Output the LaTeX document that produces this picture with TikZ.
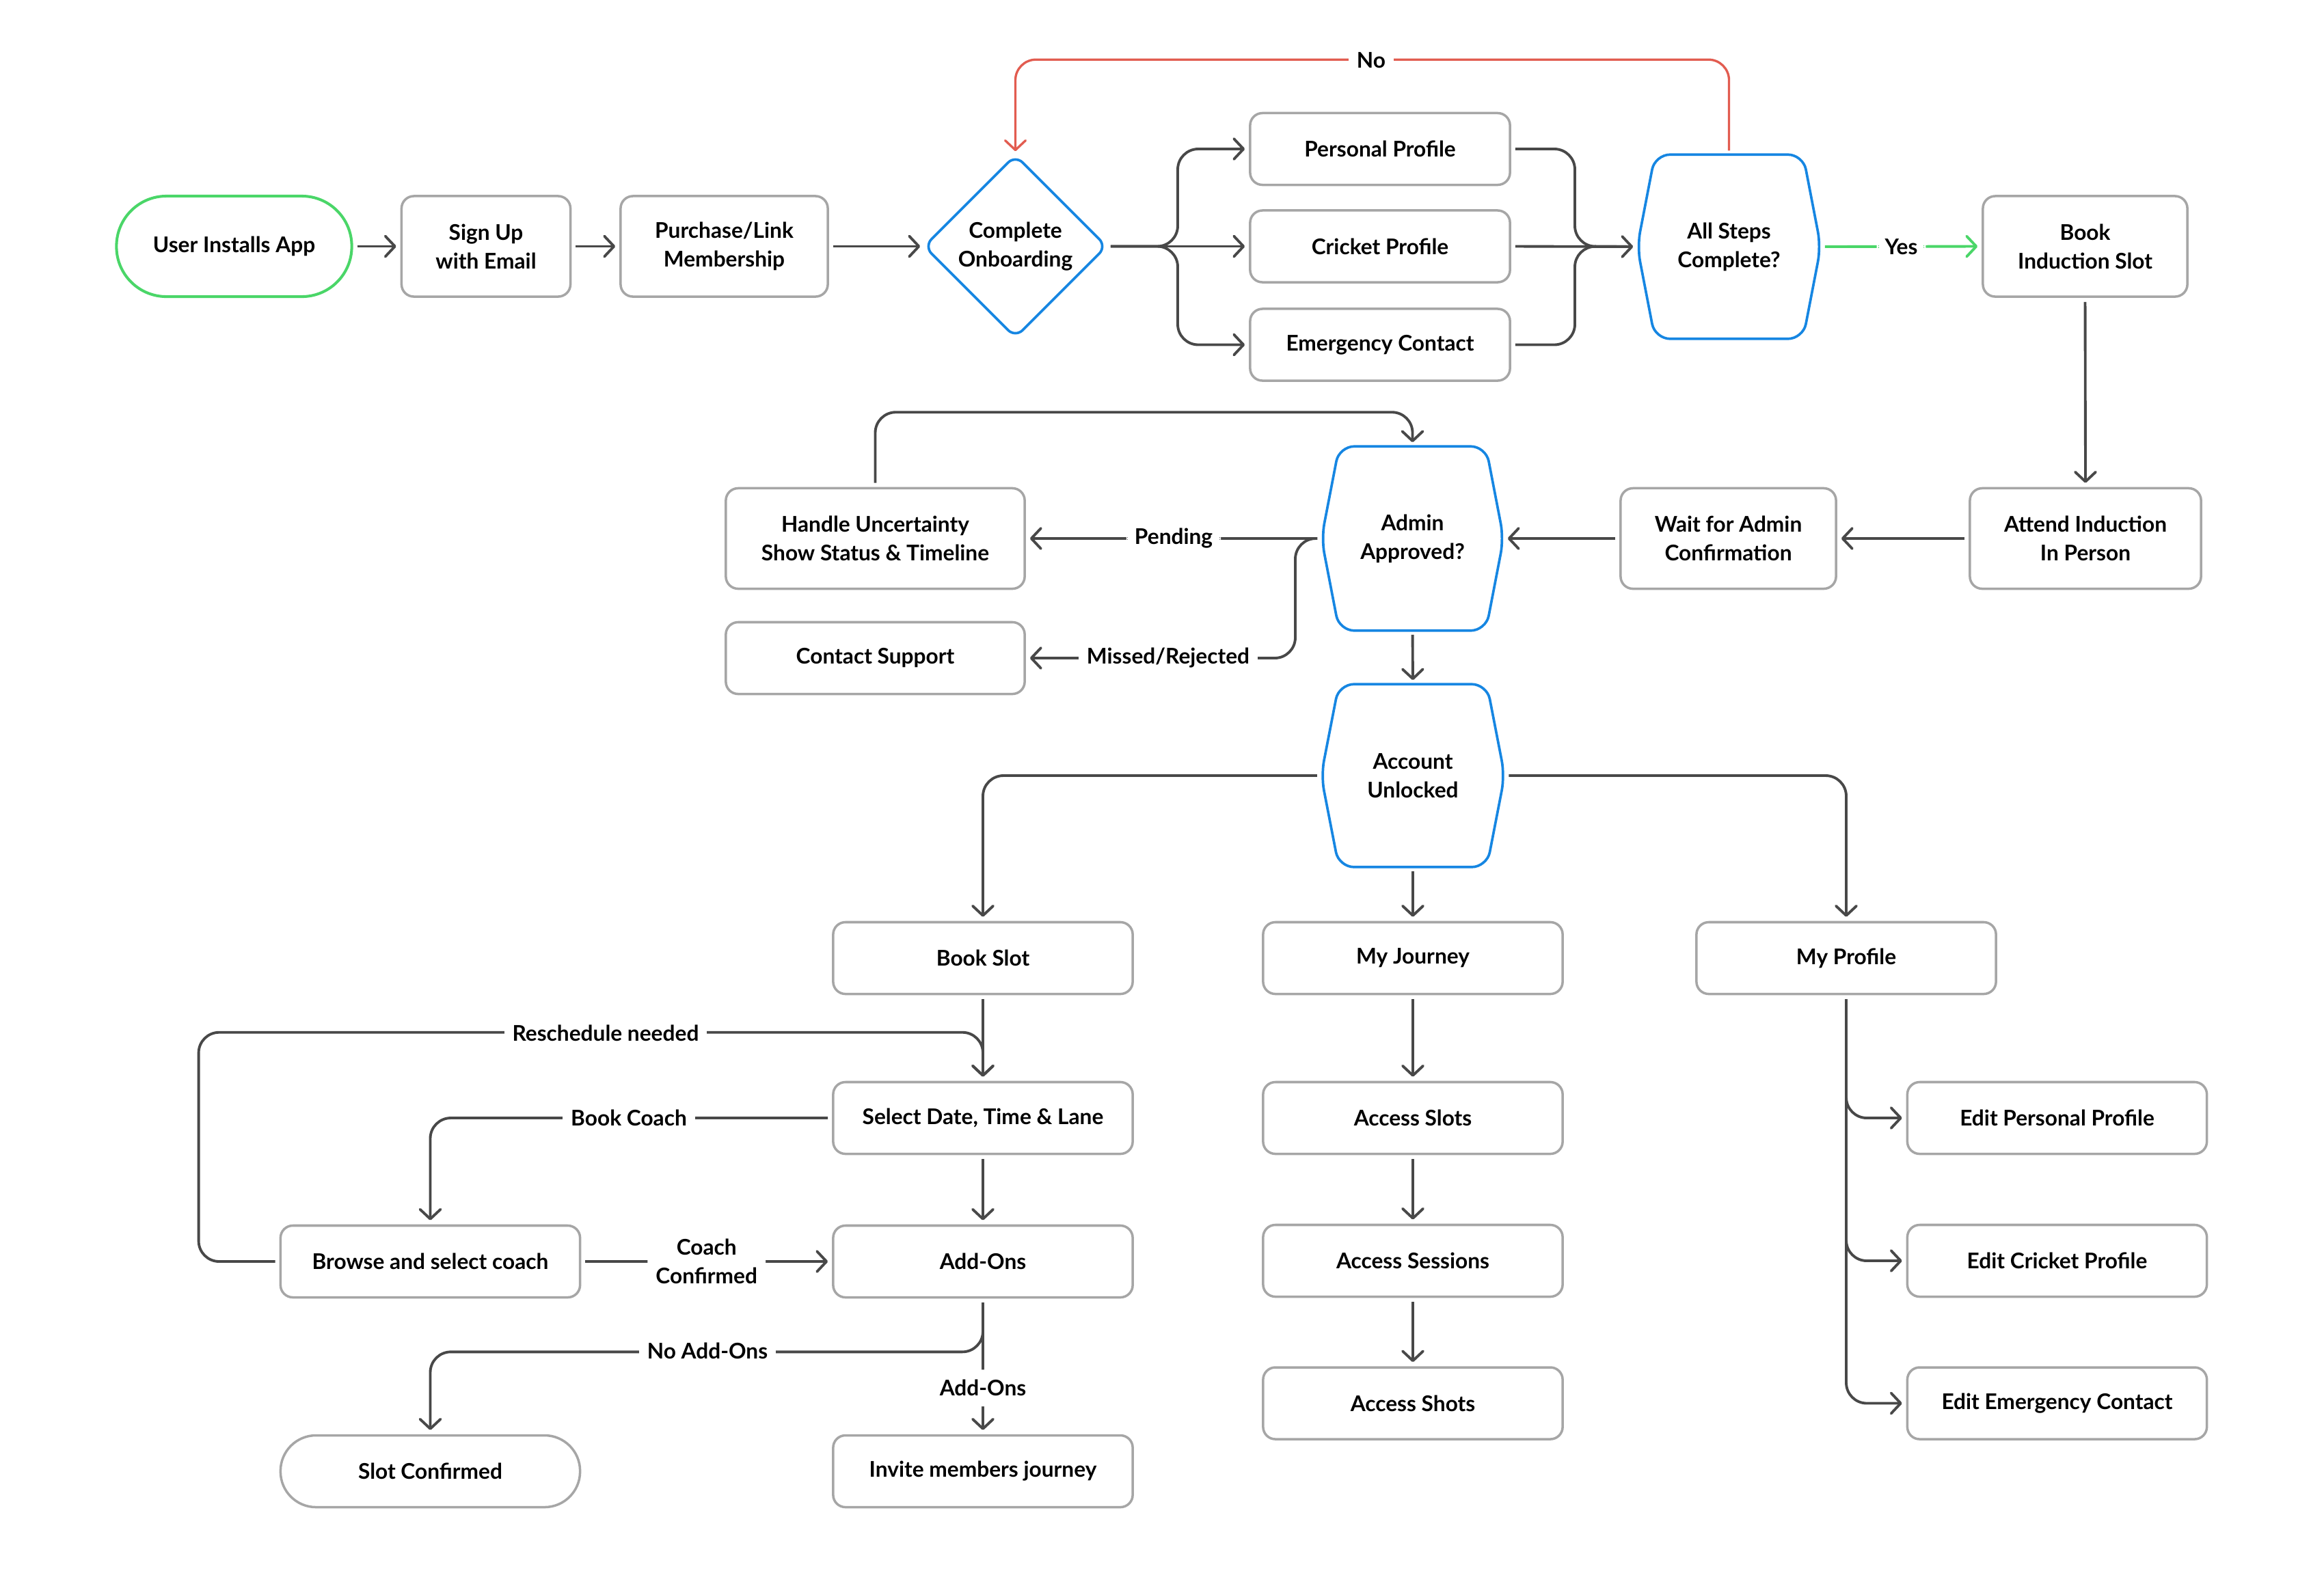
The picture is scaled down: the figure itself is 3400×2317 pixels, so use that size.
\documentclass[tikz,border=0pt]{standalone}
\usepackage{fontspec}
\setmainfont{Lato}
\usetikzlibrary{arrows.meta,calc}
\definecolor{boxgray}{RGB}{166,166,166}
\definecolor{linegray}{RGB}{72,72,72}
\definecolor{okgreen}{RGB}{74,214,104}
\definecolor{decblue}{RGB}{22,134,226}
\definecolor{nored}{RGB}{226,92,80}
\begin{document}
\begin{tikzpicture}[x=0.01cm,y=-0.01cm,
  every node/.style={font=\fontsize{9pt}{12pt}\selectfont\bfseries, align=center, text=black},
  box/.style={draw=boxgray, line width=1pt, rounded corners=0.18cm, minimum width=4.38cm, minimum height=1.05cm, inner sep=0},
  tall/.style={box, minimum height=1.47cm},
  ghost/.style={inner sep=0},
  hexline/.style={draw=decblue, line width=1.05pt, rounded corners=0.22cm},
  conn/.style={draw=linegray, line width=1.1pt, rounded corners=0.3cm, shorten >=1.7pt, shorten <=1.7pt, -{Straight Barb[length=4pt,width=8.5pt,round]}},
  plain/.style={draw=linegray, line width=1.1pt, rounded corners=0.3cm, shorten <=1.7pt, shorten >=3pt},
  lbl/.style={fill=white, inner xsep=0.12cm, inner ysep=0.06cm},
]
\fill[white] (0,0) rectangle (3400,2317);
\useasboundingbox (0,0) rectangle (3400,2317);

% top row
\node[tall, draw=okgreen, line width=1.15pt, rounded corners=0.73cm, minimum width=3.44cm] (uia) at (342.5,360.5) {User Installs App};
\node[tall, minimum width=2.47cm] (signup) at (711,360.5) {Sign Up\\with Email};
\node[tall, minimum width=3.03cm] (purchase) at (1059.5,360.5) {Purchase/Link\\Membership};
\node[ghost, minimum width=2.65cm, minimum height=2.65cm] (onb) at (1485.5,360.5) {Complete\\Onboarding};
\node[box, minimum width=3.8cm] (pp) at (2019,218) {Personal Profile};
\node[box, minimum width=3.8cm] (cp) at (2019,360.5) {Cricket Profile};
\node[box, minimum width=3.8cm] (ep) at (2019,504.5) {Emergency Contact};
\node[ghost, minimum width=2.67cm, minimum height=2.68cm] (allsteps) at (2529.5,361) {All Steps\\Complete?};
\node[tall, minimum width=2.99cm] (bookind) at (3050.5,360.5) {Book\\Induction Slot};

% second band
\node[tall, minimum width=3.38cm] (attend) at (3051,788) {Attend Induction\\In Person};
\node[tall, minimum width=3.15cm] (wait) at (2528.5,788) {Wait for Admin\\Confirmation};
\node[ghost, minimum width=2.65cm, minimum height=2.68cm] (admin) at (2066.5,788) {Admin\\Approved?};
\node[tall, minimum width=4.37cm] (handle) at (1280.5,788) {Handle Uncertainty\\Show Status \& Timeline};
\node[box, minimum width=4.37cm] (contact) at (1280.5,963) {Contact Support};
\node[ghost, minimum width=2.67cm, minimum height=2.66cm] (unlock) at (2067,1135) {Account\\Unlocked};

% lower grid
\node[box] (bookslot) at (1438,1402) {Book Slot};
\node[box] (journey) at (2067,1402) {My Journey};
\node[box] (profile) at (2701,1402) {My Profile};
\node[box] (select) at (1438,1636) {Select Date, Time \& Lane};
\node[box] (browse) at (629.5,1846) {Browse and select coach};
\node[box] (addons) at (1438,1846) {Add-Ons};
\node[box, rounded corners=0.52cm] (slotconf) at (629.5,2153) {Slot Confirmed};
\node[box] (invite) at (1438,2153) {Invite members journey};
\node[box] (slots) at (2067,1636) {Access Slots};
\node[box] (sessions) at (2067,1845) {Access Sessions};
\node[box] (shots) at (2067,2053.5) {Access Shots};
\node[box] (editpp) at (3009.5,1636) {Edit Personal Profile};
\node[box] (editcp) at (3009.5,1845) {Edit Cricket Profile};
\node[box] (editec) at (3009.5,2053.5) {Edit Emergency Contact};

% decision shapes
\draw[draw=decblue, line width=1.05pt, rounded corners=0.15cm] (onb.west) -- (onb.north) -- (onb.east) -- (onb.south) -- cycle;
\foreach \h in {allsteps,admin,unlock}{
  \draw[hexline] (\h.west) -- ($(\h.north west)+(26,0)$) -- ($(\h.north east)+(-26,0)$) -- (\h.east) -- ($(\h.south east)+(-26,0)$) -- ($(\h.south west)+(26,0)$) -- cycle;
}

% top connectors
\draw[conn] (uia.east) -- (signup.west);
\draw[conn] (signup.east) -- (purchase.west);
\draw[conn] (purchase.east) -- (onb.west);
\coordinate (split) at (1723,360.5);
\coordinate (merge) at (2304,360.5);
\draw[conn] (onb.east) -- (split) |- (pp.west);
\draw[conn] (onb.east) -- (cp.west);
\draw[conn] (onb.east) -- (split) |- (ep.west);
\draw[plain] (pp.east) -| (merge) -- (allsteps.west);
\draw[plain] (ep.east) -| (merge) -- (allsteps.west);
\draw[conn] (cp.east) -- (allsteps.west);
\draw[conn, draw=nored, line width=0.95pt] (allsteps.north) -- ++(0,-139) -| (onb.north);
\node[lbl] (lno) at (2006,88) {No};
\draw[conn, draw=okgreen] (allsteps.east) -- (bookind.west) node[lbl, midway] (lyes) {Yes};

% second band connectors
\draw[conn] (bookind.south) -- (attend.north);
\draw[conn] (attend.west) -- (wait.east);
\draw[conn] (wait.west) -- (admin.east);
\draw[conn] (admin.west) -- (handle.east) node[lbl, pos=0.5] (lpend) {Pending};
\coordinate (mbend) at (1895,788);
\draw[conn] (admin.west) -- (mbend) |- (contact.east);
\node[lbl] (lmiss) at (1709,963) {Missed/Rejected};
\draw[conn] (handle.north) |- ($(admin.north)+(0,-50)$) -- (admin.north);
\draw[conn] (admin.south) -- (unlock.north);
\draw[conn] (unlock.west) -| (bookslot.north);
\draw[conn] (unlock.south) -- (journey.north);
\draw[conn] (unlock.east) -| (profile.north);

% booking flow
\draw[conn] (bookslot.south) -- (select.north);
\draw[conn] (browse.west) -- ++(-118,0) |- ($(select.north)+(0,-71)$) -- (select.north);
\node[lbl] (lres) at (886,1512) {Reschedule needed};
\draw[conn] (select.west) -| (browse.north);
\node[lbl] (lcoach) at (920,1636) {Book Coach};
\draw[conn] (select.south) -- (addons.north);
\draw[conn] (browse.east) -- (addons.west) node[lbl, midway] (lconf) {Coach\\Confirmed};
\draw[conn] (addons.south) -- ++(0,78) -| (slotconf.north);
\node[lbl] (lnoadd) at (1035,1977) {No Add-Ons};
\draw[conn] (addons.south) -- (invite.north) node[lbl, pos=0.66, inner ysep=0.15cm] (ladd) {Add-Ons};

% journey
\draw[conn] (journey.south) -- (slots.north);
\draw[conn] (slots.south) -- (sessions.north);
\draw[conn] (sessions.south) -- (shots.north);

% profile
\draw[conn] (profile.south) |- (editpp.west);
\draw[conn] (profile.south) |- (editcp.west);
\draw[conn] (profile.south) |- (editec.west);
\end{tikzpicture}
\end{document}
